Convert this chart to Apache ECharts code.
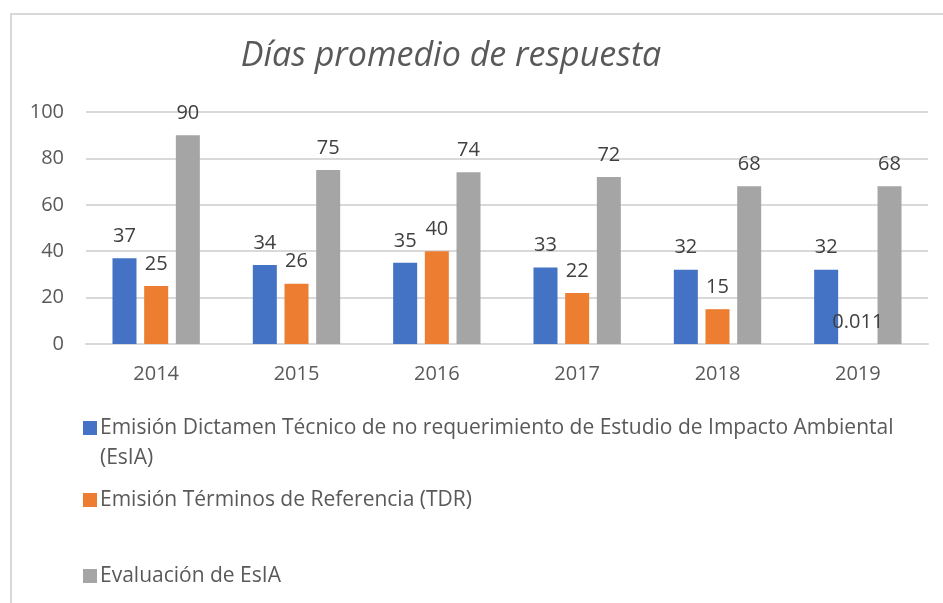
<!DOCTYPE html>
<html>
<head>
<meta charset="utf-8">
<script src="https://cdn.jsdelivr.net/npm/echarts@6/dist/echarts.min.js"></script>
<style>
  html, body { margin: 0; padding: 0; background: #fff; }
  #frame {
    position: absolute; left: 10px; top: 13px; width: 960px; height: 620px;
    border-top: 2px solid #d9d9d9; border-left: 2px solid #d9d9d9;
  }
  #chart { position: absolute; left: 0; top: 0; width: 943px; height: 603px; }
</style>
</head>
<body>
<div id="frame"></div>
<div id="chart"></div>
<script>
const years = ['2014', '2015', '2016', '2017', '2018', '2019']
const seriesNames = [
  'Emisión Dictamen Técnico de no requerimiento de Estudio de Impacto Ambiental (EsIA)',
  'Emisión Términos de Referencia (TDR)',
  'Evaluación de EsIA'
]
const dictamen = [37, 34, 35, 33, 32, 32]
const terminos = [25, 26, 40, 22, 15, 0.011]
const evaluacion = [90, 75, 74, 72, 68, 68]
const colors = ['#4472C4', '#ED7D31', '#A5A5A5']

const font = '"Open Sans", sans-serif'
const textColor = '#595959'

const chart = echarts.init(document.getElementById('chart'))

const makeSeries = (name, data, color) => ({
  name,
  type: 'bar',
  data,
  barWidth: 24,
  barGap: '32%',
  itemStyle: { color },
  label: {
    show: true,
    position: 'top',
    distance: 12,
    color: '#404040',
    fontSize: 20,
    fontFamily: font
  }
})

// one legend per series so each row sits where the original puts it
const legendItem = (name, top) => ({
  data: [name],
  orient: 'vertical',
  left: 83,
  top,
  padding: 0,
  itemWidth: 14,
  itemHeight: 14,
  itemGap: 0,
  icon: 'rect',
  selectedMode: false,
  textStyle: {
    color: textColor, fontSize: 21, fontFamily: font, lineHeight: 30, padding: [0, 0, 0, -2]
  }
})

chart.setOption({
  animation: false,
  title: {
    text: 'Días promedio de respuesta',
    left: 446,
    textAlign: 'center',
    top: 34,
    textStyle: { color: textColor, fontSize: 34, fontStyle: 'italic', fontWeight: 'normal', fontFamily: font }
  },
  legend: [
    // blank first line keeps the icon level with the first text line
    Object.assign(legendItem(seriesNames[0], 383), {
      formatter: n => ' \n' + n.replace(' (EsIA)', '\n(EsIA)')
    }),
    legendItem(seriesNames[1], 485),
    legendItem(seriesNames[2], 561)
  ],
  grid: { left: 86, right: 15, top: 112, bottom: 259 },
  xAxis: {
    type: 'category',
    data: years,
    axisLine: { lineStyle: { color: '#d9d9d9', width: 2 } },
    axisTick: { show: false },
    axisLabel: { color: textColor, fontSize: 20, fontFamily: font, margin: 20 }
  },
  yAxis: {
    type: 'value',
    min: 0,
    max: 100,
    interval: 20,
    axisLine: { show: false },
    axisTick: { show: false },
    splitLine: { lineStyle: { color: '#d9d9d9', width: 2 } },
    axisLabel: { color: textColor, fontSize: 20, fontFamily: font, margin: 22 }
  },
  series: [
    makeSeries(seriesNames[0], dictamen, colors[0]),
    makeSeries(seriesNames[1], terminos, colors[1]),
    makeSeries(seriesNames[2], evaluacion, colors[2])
  ]
})
</script>
</body>
</html>
